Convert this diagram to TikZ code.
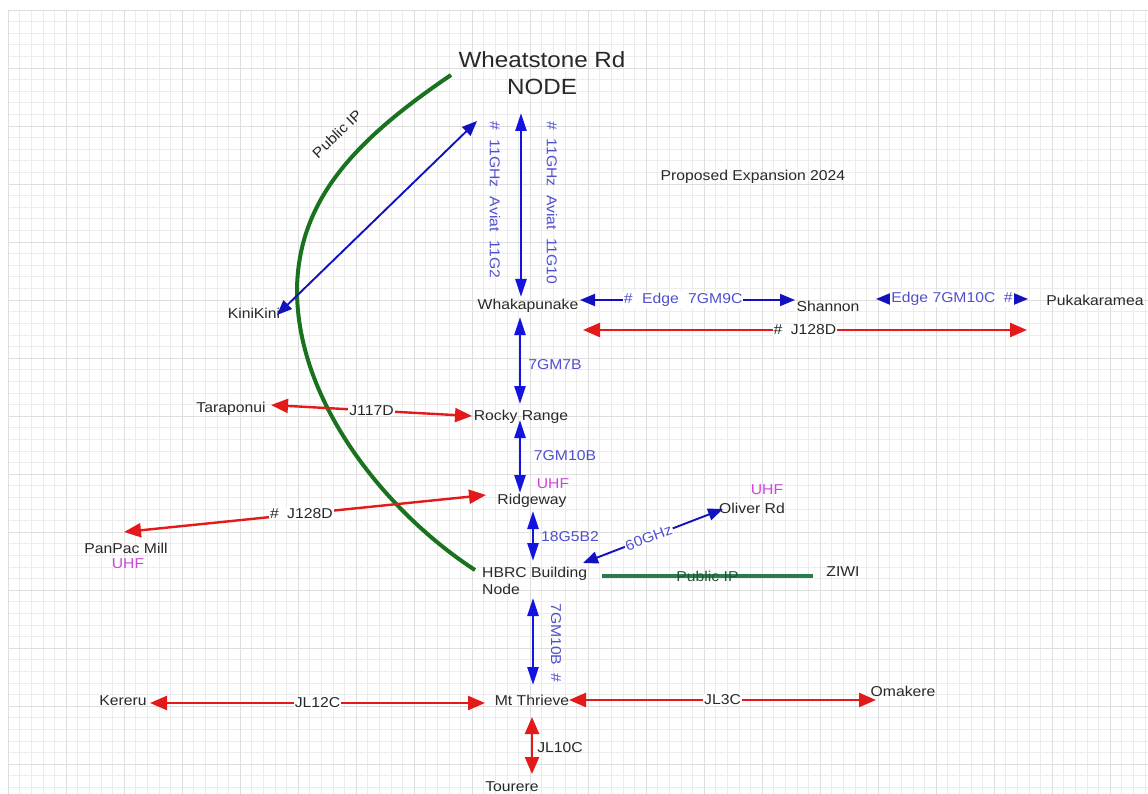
\documentclass[tikz,border=0pt]{standalone}
\usepackage{fontspec}
\setmainfont{Liberation Sans}[FakeStretch=1.1]
\usetikzlibrary{arrows.meta}
\definecolor{lnblue}{RGB}{20,20,225}
\definecolor{lblblue}{RGB}{80,80,205}
\definecolor{lnred}{RGB}{228,25,25}
\definecolor{lngreen}{RGB}{25,115,30}
\definecolor{ipgreen}{RGB}{40,125,75}
\definecolor{uhfmag}{RGB}{205,70,215}
\definecolor{txtgray}{RGB}{40,40,40}
\definecolor{gridminor}{RGB}{236,236,236}
\definecolor{gridmajor}{RGB}{222,222,222}
\begin{document}
\begin{tikzpicture}[x=1pt,y=-1pt,
  every node/.style={font=\fontsize{14.3}{16.5}\selectfont, text=txtgray, inner sep=1pt},
  lbl/.style={fill=white, inner sep=1pt},
  blbl/.style={lbl, text=lblblue},
  uhf/.style={text=uhfmag},
  thickblue/.style={draw=lnblue, line width=2.6pt, {Triangle[length=18pt,width=11pt]}-{Triangle[length=18pt,width=11pt]}},
  thinblue/.style={draw=lnblue!85!black, line width=1.9pt, {Triangle[length=15pt,width=12pt]}-{Triangle[length=15pt,width=12pt]}},
  redlink/.style={draw=lnred, line width=2.4pt, {Triangle[length=17pt,width=14pt]}-{Triangle[length=17pt,width=14pt]}},
  greenlink/.style={draw=lngreen, line width=4pt},
  iplink/.style={draw=ipgreen, line width=3.4pt}
]
\useasboundingbox (0,0) rectangle (1148,794);
\fill[white] (0,0) rectangle (1148,794);
% grid
\foreach \i in {0,...,98} {\draw[gridminor, line width=0.6pt] ({8+11.6*\i},10) -- ({8+11.6*\i},794);}
\foreach \j in {0,...,67} {\draw[gridminor, line width=0.6pt] (8,{10+11.6*\j}) -- (1148,{10+11.6*\j});}
\foreach \i in {0,5,...,95} {\draw[gridmajor, line width=0.8pt] ({8+11.6*\i},10) -- ({8+11.6*\i},794);}
\foreach \j in {0,5,...,65} {\draw[gridmajor, line width=0.8pt] (8,{10+11.6*\j}) -- (1148,{10+11.6*\j});}

% nodes
\node[align=center, font=\fontsize{22}{27}\selectfont] (wheat) at (542,73) {Wheatstone Rd\\NODE};
\node (kini) at (254,313) {KiniKini};
\node (whaka) at (528,306) {Whakapunake};
\node (shannon) at (828,306) {Shannon};
\node (puka) at (1095,300) {Pukakaramea};
\node (prop) at (753,177) {Proposed Expansion 2024};
\node (tara) at (231,409) {Taraponui};
\node (rocky) at (521,417) {Rocky Range};
\node[uhf] (uhf1) at (553,484) {UHF};
\node (ridge) at (532,501) {Ridgeway};
\node (panpac) at (126,548) {PanPac Mill};
\node[uhf] (uhf2) at (128,564) {UHF};
\node[uhf] (uhf3) at (767,490) {UHF};
\node (oliver) at (752,508) {Oliver Rd};
\node[align=left, anchor=west] (hbrc) at (481,581) {HBRC Building\\Node};
\node (ziwi) at (843,572) {ZIWI};
\node (thrieve) at (532,700) {Mt Thrieve};
\node (kereru) at (123,701) {Kereru};
\node (omakere) at (903,691) {Omakere};
\node (tourere) at (512,787) {Tourere};

% connector end points
\coordinate (wA) at (521,113); \coordinate (wB) at (521,297);
\coordinate (kA) at (277,315); \coordinate (kB) at (477,121);
\coordinate (eA) at (580,300); \coordinate (eB) at (795,300);
\coordinate (fA) at (876,299); \coordinate (fB) at (1028,299);
\coordinate (jA) at (583,330); \coordinate (jB) at (1027,330);
\coordinate (gA) at (520,317); \coordinate (gB) at (520,404);
\coordinate (tA) at (271,405); \coordinate (tB) at (472,416);
\coordinate (rA) at (520,420); \coordinate (rB) at (520,493);
\coordinate (pA) at (124,532); \coordinate (pB) at (486,495);
\coordinate (hA) at (533,511); \coordinate (hB) at (533,561);
\coordinate (oA) at (583,563); \coordinate (oB) at (723,509);
\coordinate (iA) at (602,576); \coordinate (iB) at (813,576);
\coordinate (mA) at (533,598); \coordinate (mB) at (533,685);
\coordinate (kkA) at (150,703); \coordinate (kkB) at (485,703);
\coordinate (omA) at (569,700); \coordinate (omB) at (876,700);
\coordinate (toA) at (532,717); \coordinate (toB) at (532,774);

% green public IP curve
\draw[greenlink] (451,75) .. controls (355,140) and (298,200) .. (297,290)
  .. controls (297,405) and (390,515) .. (475,570);
\node[rotate=44] (pubip1) at (337,134) {Public IP};

% blue links
\draw[thickblue] (wA) -- (wB);
\node[rotate=-90, text=lblblue] (l11g2) at (495,200) {\#\hspace{5pt} 11GHz\hspace{5pt} Aviat\hspace{5pt} 11G2};
\node[rotate=-90, text=lblblue] (l11g10) at (552,203) {\#\hspace{4pt} 11GHz\hspace{4pt} Aviat\hspace{4pt} 11G10};
\draw[thinblue] (kA) -- (kB);
\draw[thinblue] (eA) -- node[blbl, pos=0.48] (le) {\#\hspace{5pt} Edge\hspace{5pt} 7GM9C} (eB);
\draw[thinblue] (fA) -- node[blbl, pos=0.5] (lf) {Edge 7GM10C\hspace{4pt} \#} (fB);
\draw[thickblue] (gA) -- (gB);
\node[text=lblblue] (l7gm7b) at (555,365) {7GM7B};
\draw[thickblue] (rA) -- (rB);
\node[text=lblblue] (l7gm10b) at (565,456) {7GM10B};
\draw[thickblue] (hA) -- (hB);
\node[text=lblblue] (l18g) at (570,537) {18G5B2};
\draw[thinblue] (oA) -- node[blbl, sloped, pos=0.47] (l60) {60GHz} (oB);
\draw[thickblue] (mA) -- (mB);
\node[rotate=-90, text=lblblue] (l7gm10b2) at (556,643) {7GM10B\hspace{4pt} \#};

% green horizontal
\draw[iplink] (iA) -- node[text=ipgreen!70!black] (pubip2) {Public IP} (iB);

% red links
\draw[redlink] (jA) -- node[lbl] (lj1) {\#\hspace{4pt} J128D} (jB);
\draw[redlink] (tA) -- node[lbl] (lj2) {J117D} (tB);
\draw[redlink] (pA) -- node[lbl, pos=0.49] (lj3) {\#\hspace{4pt} J128D} (pB);
\draw[redlink] (kkA) -- node[lbl] (ljl12) {JL12C} (kkB);
\draw[redlink] (omA) -- node[lbl] (ljl3) {JL3C} (omB);
\draw[redlink] (toA) -- (toB);
\node (ljl10) at (560,748) {JL10C};
\end{tikzpicture}
\end{document}
